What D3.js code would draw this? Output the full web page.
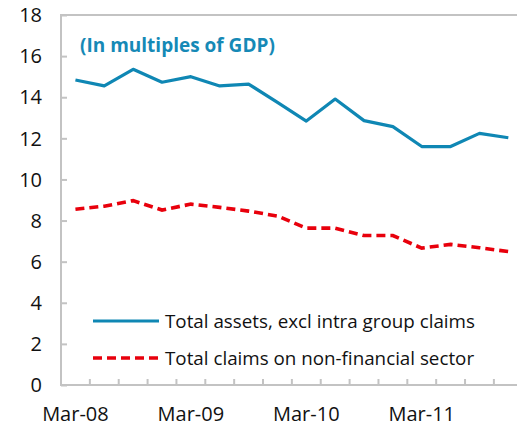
<!DOCTYPE html>
<html>
<head>
<meta charset="utf-8">
<script src="https://cdn.jsdelivr.net/npm/d3@7"></script>
<style>
  html, body { margin: 0; padding: 0; background: #fff; }
  svg { display: block; font-family: "Open Sans", sans-serif; }
</style>
</head>
<body>
<svg id="chart"></svg>
<script>
// quarterly, Mar-08 .. Dec-11
let quarters = ["Mar-08", "Jun-08", "Sep-08", "Dec-08",
                "Mar-09", "Jun-09", "Sep-09", "Dec-09",
                "Mar-10", "Jun-10", "Sep-10", "Dec-10",
                "Mar-11", "Jun-11", "Sep-11", "Dec-11"];
let totalAssets = [14.84, 14.55, 15.36, 14.73, 15.0, 14.55, 14.64, 13.75,
                   12.84, 13.91, 12.86, 12.57, 11.6, 11.6, 12.24, 12.03];
let nonFinClaims = [8.55, 8.7, 8.97, 8.51, 8.8, 8.64, 8.46, 8.22,
                    7.63, 7.63, 7.27, 7.27, 6.66, 6.84, 6.68, 6.49];
let yTicks = [0, 2, 4, 6, 8, 10, 12, 14, 16, 18];
let xLabels = ["Mar-08", "Mar-09", "Mar-10", "Mar-11"];
let seriesNames = ["Total assets, excl intra group claims", "Total claims on non-financial sector"];

let w = 517, h = 426;
let plotLeft = 61, plotTop = 15, plotBottom = 385;
let bandW = 28.86;
let plotRight = plotLeft + bandW * quarters.length;   // plot runs past the window edge

let svg = d3.select("#chart").attr("width", w).attr("height", h);

let xScale = d3.scaleBand().domain(quarters).range([plotLeft, plotRight]);
let yScale = d3.scaleLinear().domain([0, 18]).range([plotBottom, plotTop]);

// plot frame
svg.append("rect")
    .attr("x", plotLeft).attr("y", plotTop)
    .attr("width", plotRight - plotLeft).attr("height", plotBottom - plotTop)
    .attr("fill", "none").attr("stroke", "#c3c3c3").attr("stroke-width", 2);

// y axis, ticks inside
let yAxis = d3.axisRight(yScale).tickValues(yTicks).tickSize(6).tickFormat("");
let gy = svg.append("g").attr("transform", "translate(" + plotLeft + ",0)").call(yAxis);
gy.select(".domain").remove();
gy.selectAll("line").attr("stroke", "#c3c3c3").attr("stroke-width", 2);

svg.append("g").selectAll("text")
    .data(yTicks).enter().append("text")
    .attr("x", 42).attr("y", d => yScale(d))
    .attr("dy", "0.36em").attr("text-anchor", "end")
    .attr("font-size", 20).attr("fill", "#111")
    .text(d => d);

// x axis, ticks between categories pointing up
let boundaries = quarters.slice(1).map(q => xScale(q));
svg.append("g").selectAll("line")
    .data(boundaries).enter().append("line")
    .attr("x1", d => d).attr("x2", d => d)
    .attr("y1", plotBottom).attr("y2", plotBottom - 6)
    .attr("stroke", "#c3c3c3").attr("stroke-width", 2);

svg.append("g").selectAll("text")
    .data(xLabels).enter().append("text")
    .attr("x", d => xScale(d) + xScale.bandwidth() / 2)
    .attr("y", 421).attr("text-anchor", "middle")
    .attr("font-size", 20).attr("fill", "#111")
    .text(d => d);

// lines
let line = d3.line()
    .x((d, i) => xScale(quarters[i]) + xScale.bandwidth() / 2)
    .y(d => yScale(d));

svg.append("path").datum(totalAssets)
    .attr("d", line).attr("fill", "none")
    .attr("stroke", "#0f87b4").attr("stroke-width", 3.2)
    .attr("stroke-linejoin", "round");

svg.append("path").datum(nonFinClaims)
    .attr("d", line).attr("fill", "none")
    .attr("stroke", "#e8000c").attr("stroke-width", 3.6)
    .attr("stroke-dasharray", "9,5");

// subtitle
svg.append("text")
    .attr("x", 80).attr("y", 52)
    .attr("font-size", 19).attr("font-weight", "bold").attr("fill", "#1689b6")
    .text("(In multiples of GDP)");

// legend
let legend = svg.append("g");
let legendY = [321, 358];
legend.append("line")
    .attr("x1", 93).attr("x2", 159).attr("y1", legendY[0]).attr("y2", legendY[0])
    .attr("stroke", "#0f87b4").attr("stroke-width", 3.2);
legend.append("line")
    .attr("x1", 93).attr("x2", 159).attr("y1", legendY[1]).attr("y2", legendY[1])
    .attr("stroke", "#e8000c").attr("stroke-width", 3.6)
    .attr("stroke-dasharray", "9,5");
legend.selectAll("text")
    .data(seriesNames).enter().append("text")
    .attr("x", 165).attr("y", (d, i) => legendY[i])
    .attr("dy", "0.36em").attr("font-size", 18.8).attr("fill", "#111")
    .text(d => d);
</script>
</body>
</html>
